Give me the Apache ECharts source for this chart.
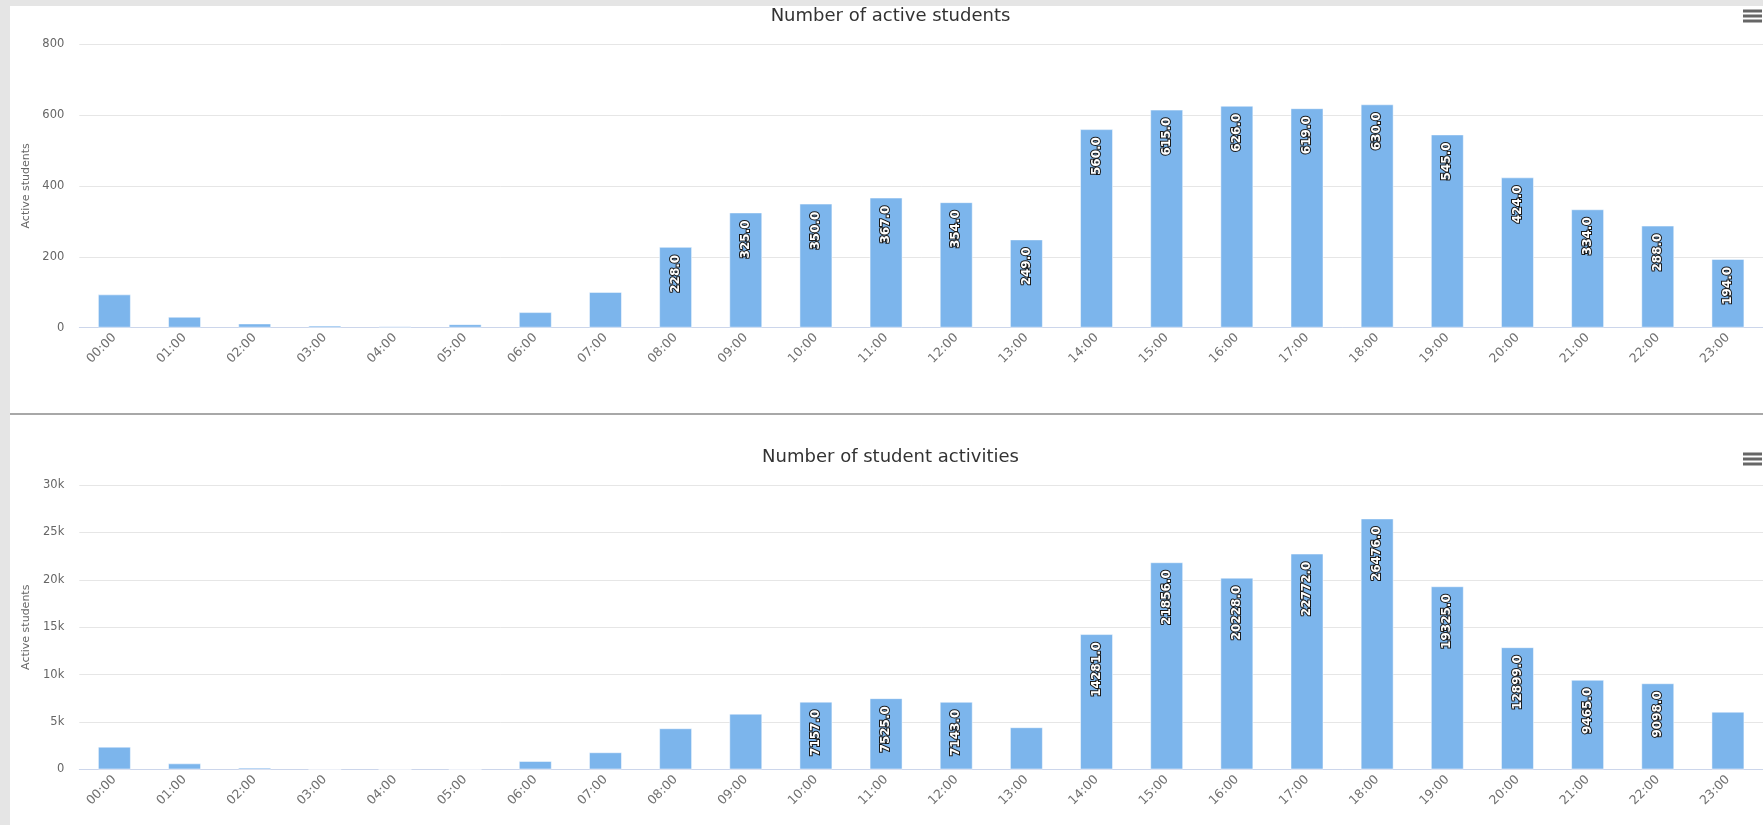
<!DOCTYPE html>
<html>
<head>
<meta charset="utf-8">
<title>Students by hour</title>
<script src="https://cdn.jsdelivr.net/npm/echarts@6/dist/echarts.min.js"></script>
<style>
html, body { margin: 0; padding: 0; width: 1763px; height: 825px; overflow: hidden; background: #e5e5e5; }
.panel { position: absolute; left: 10px; width: 1753px; background: #fff; }
#chartStudents { top: 6px; height: 407px; }
#sep { position: absolute; left: 10px; top: 413px; width: 1753px; height: 2px; background: #a8a8a8; }
#chartActs { top: 415px; height: 410px; }
</style>
</head>
<body>
<div id="chartStudents" class="panel"></div>
<div id="sep"></div>
<div id="chartActs" class="panel"></div>
<script>
"use strict"

const hours = ["00:00", "01:00", "02:00", "03:00", "04:00", "05:00", "06:00", "07:00",
    "08:00", "09:00", "10:00", "11:00", "12:00", "13:00", "14:00", "15:00",
    "16:00", "17:00", "18:00", "19:00", "20:00", "21:00", "22:00", "23:00"];
const activeStudents = [94, 31, 12, 6, 4, 10, 44, 101, 228, 325, 350, 367, 354, 249,
    560, 615, 626, 619, 630, 545, 424, 334, 288, 194];
const studentActivities = [2410, 650, 200, 30, 15, 25, 900, 1820, 4350, 5890, 7157, 7525, 7143, 4460,
    14281, 21856, 20228, 22772, 26476, 19325, 12899, 9465, 9098, 6100];

// value axis ticks of each chart
const studentsTicks = [0, 800, 200];
const actsTicks = [0, 30000, 5000];
// bars lower than this have no room for their label
const studentsLabelMin = 150;
const actsLabelMin = 6500;

const FONT = "DejaVu Sans";
const menuIcon = "path://M0,0H19V3H0Z M0,5H19V8H0Z M0,10H19V13H0Z";

function makeOption(cfg)
{
    const [min, max, interval] = cfg.ticks;
    return {
        animation: false,
        title: {
            text: cfg.title,
            left: 880.5,
            top: cfg.titleY,
            padding: 0,
            textAlign: "center",
            textVerticalAlign: "middle",
            textStyle: { fontFamily: FONT, fontSize: 18, fontWeight: "normal", color: "#333" }
        },
        toolbox: {
            right: 1,
            top: cfg.menuY,
            padding: 0,
            itemSize: 19,
            iconStyle: { color: "#666", borderWidth: 0 },
            feature: { myMenu: { show: true, title: "Chart context menu", icon: menuIcon, onclick: () => { } } }
        },
        grid: { left: 69.3, right: 0, top: cfg.gridTop, height: cfg.gridHeight, outerBoundsMode: "none" },
        xAxis: {
            type: "category",
            data: hours,
            axisLine: { lineStyle: { color: "#ccd6eb" } },
            axisTick: { length: 10, lineStyle: { color: "#ccd6eb" } },
            axisLabel: { interval: 0, rotate: 45, margin: 8, color: "#707070", fontSize: 12.5, fontFamily: FONT }
        },
        yAxis: {
            type: "value",
            min: min,
            max: max,
            interval: interval,
            name: "Active students",
            nameLocation: "middle",
            nameGap: 46,
            nameTextStyle: { color: "#666", fontSize: 11, fontFamily: FONT },
            axisLine: { show: false },
            axisTick: { show: false },
            axisLabel: { color: "#666", fontSize: 11.5, margin: 15, fontFamily: FONT, formatter: cfg.tickFmt },
            splitLine: { lineStyle: { color: "#e6e6e6" } }
        },
        series: [{
            type: "bar",
            barWidth: 33,
            data: cfg.values.map(v => ({ value: v, label: { show: v >= cfg.labelMin } })),
            itemStyle: { color: "#7cb5ec", borderColor: "rgba(255,255,255,0.5)", borderWidth: 1 },
            label: {
                position: "insideTop",
                rotate: 90,
                align: "right",
                verticalAlign: "middle",
                distance: 8,
                color: "#fff",
                fontWeight: "bold",
                fontSize: 12,
                fontFamily: FONT,
                textBorderColor: "#1a1a1a",
                textBorderWidth: 2,
                formatter: p => p.value.toFixed(1)
            }
        }]
    };
}

const chartStudents = echarts.init(document.getElementById("chartStudents"), null, { renderer: "canvas" });
chartStudents.setOption(makeOption({
    title: "Number of active students",
    titleY: 10,
    menuY: 3.5,
    gridTop: 38,
    gridHeight: 283.7,
    values: activeStudents,
    labelMin: studentsLabelMin,
    ticks: studentsTicks,
    tickFmt: val => `${val}`
}));

const chartActs = echarts.init(document.getElementById("chartActs"), null, { renderer: "canvas" });
chartActs.setOption(makeOption({
    title: "Number of student activities",
    titleY: 42.7,
    menuY: 37.5,
    gridTop: 70,
    gridHeight: 284.5,
    values: studentActivities,
    labelMin: actsLabelMin,
    ticks: actsTicks,
    tickFmt: val => val === 0 ? "0" : `${val / 1000}k`
}));
</script>
</body>
</html>
